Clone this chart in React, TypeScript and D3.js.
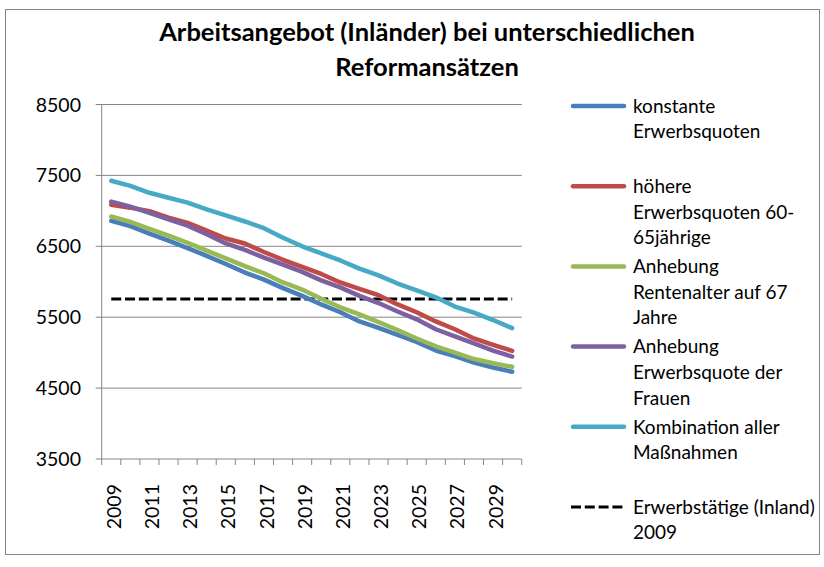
import React from "react";
import * as d3 from "d3";

// years on the category axis
const years = d3.range(2009, 2031).map(String);
const yTicks = [3500, 4500, 5500, 6500, 7500, 8500];

// series values (thousands)
const konstante = [6860, 6785, 6680, 6580, 6475, 6365, 6250, 6130, 6030, 5910, 5800, 5680, 5570, 5440, 5350, 5250, 5150, 5030, 4950, 4860, 4790, 4730];
const hoehere = [7085, 7045, 6995, 6905, 6830, 6720, 6610, 6540, 6420, 6310, 6210, 6110, 5990, 5900, 5810, 5680, 5570, 5440, 5330, 5200, 5110, 5025];
const rentenalter = [6920, 6845, 6745, 6650, 6550, 6440, 6330, 6220, 6120, 5990, 5890, 5760, 5640, 5540, 5430, 5320, 5200, 5090, 5000, 4910, 4850, 4800];
const frauen = [7130, 7060, 6970, 6880, 6790, 6670, 6540, 6450, 6340, 6240, 6140, 6020, 5920, 5800, 5700, 5580, 5470, 5330, 5230, 5130, 5030, 4945];
const kombination = [7425, 7353, 7255, 7185, 7115, 7020, 6935, 6850, 6755, 6620, 6500, 6400, 6300, 6185, 6090, 5975, 5880, 5780, 5650, 5565, 5460, 5345];
const erwerbstaetige2009 = 5757;

const series = [
  { name: ["konstante", "Erwerbsquoten"], values: konstante, color: "#4a7ebb" },
  { name: ["höhere", "Erwerbsquoten 60-", "65jährige"], values: hoehere, color: "#be4b48" },
  { name: ["Anhebung", "Rentenalter auf 67", "Jahre"], values: rentenalter, color: "#98b954" },
  { name: ["Anhebung", "Erwerbsquote der", "Frauen"], values: frauen, color: "#7d60a0" },
  { name: ["Kombination aller", "Maßnahmen"], values: kombination, color: "#46aac5" },
];
const refName = ["Erwerbstätige (Inland)", "2009"];

const W = 824;
const H = 567;
const plot = { left: 101.7, right: 521.7, top: 104.5, bottom: 459 };
const font = "Lato, 'Open Sans', sans-serif";
const axisColor = "#868686";

export default function App() {
  const x = d3.scaleBand().domain(years).range([plot.left, plot.right]).padding(0);
  const cx = (y: string) => (x(y) as number) + x.bandwidth() / 2;
  const y = d3.scaleLinear().domain([3500, 8500]).range([plot.bottom, plot.top]);

  const line = d3
    .line<number>()
    .x((_, i) => cx(years[i]))
    .y((d) => y(d));

  const boundaries = years.map((yr) => x(yr) as number).concat([plot.right]);

  const legendX1 = 573;
  const legendX2 = 624;
  const legendText = 633;
  const legendTop = 106;
  const legendStep = 80.2;
  const lineH = 25.6;

  return (
    <svg width={W} height={H} style={{ position: "absolute", left: 0, top: 0 }} fontFamily={font}>
      <rect x={0} y={0} width={W} height={H} fill="#fff" />
      <rect x={5.5} y={9.5} width={814} height={545} fill="none" stroke={axisColor} strokeWidth={1} />

      <text x={427} y={41} textAnchor="middle" fontSize={25.5} fontWeight="bold" fill="#000">
        Arbeitsangebot (Inländer) bei unterschiedlichen
      </text>
      <text x={427} y={76} textAnchor="middle" fontSize={25.5} fontWeight="bold" fill="#000">
        Reformansätzen
      </text>

      {/* gridlines */}
      {yTicks.map((t) => (
        <g key={t}>
          <line x1={plot.left - 6} x2={plot.right} y1={y(t)} y2={y(t)} stroke={axisColor} strokeWidth={1} />
          <text x={81} y={y(t)} dy="0.36em" textAnchor="end" fontSize={19.5} fill="#000">
            {t}
          </text>
        </g>
      ))}

      {/* axes */}
      <line x1={plot.left} x2={plot.left} y1={plot.top} y2={plot.bottom} stroke={axisColor} strokeWidth={1} />
      {boundaries.map((b, i) => (
        <line key={i} x1={b} x2={b} y1={plot.bottom} y2={plot.bottom + 6} stroke={axisColor} strokeWidth={1} />
      ))}
      {years.map((yr, i) =>
        i % 2 === 0 ? (
          <text
            key={yr}
            transform={`translate(${cx(yr) + 2.5},484) rotate(-90)`}
            dy="0.36em"
            textAnchor="end"
            fontSize={19.5}
            fill="#000"
          >
            {yr}
          </text>
        ) : null
      )}

      {/* reference line */}
      <line
        x1={cx(years[0])}
        x2={cx(years[years.length - 1])}
        y1={y(erwerbstaetige2009)}
        y2={y(erwerbstaetige2009)}
        stroke="#000"
        strokeWidth={3.2}
        strokeDasharray="10 3.8"
      />

      {/* series */}
      {series.map((s) => (
        <path
          key={s.color}
          d={line(s.values) as string}
          fill="none"
          stroke={s.color}
          strokeWidth={4.5}
          strokeLinejoin="round"
          strokeLinecap="round"
        />
      ))}

      {/* legend */}
      {series.map((s, i) => {
        const ly = legendTop + i * legendStep;
        return (
          <g key={i}>
            <line x1={legendX1} x2={legendX2} y1={ly} y2={ly} stroke={s.color} strokeWidth={4.5} strokeLinecap="round" />
            {s.name.map((n, j) => (
              <text key={j} x={legendText} y={ly + j * lineH} dy="0.36em" fontSize={19} fill="#000">
                {n}
              </text>
            ))}
          </g>
        );
      })}
      <g>
        <line
          x1={legendX1 - 2}
          x2={legendX2 + 1}
          y1={legendTop + 5 * legendStep}
          y2={legendTop + 5 * legendStep}
          stroke="#000"
          strokeWidth={3.2}
          strokeDasharray="10 3.8"
        />
        {refName.map((n, j) => (
          <text key={j} x={legendText} y={legendTop + 5 * legendStep + j * lineH} dy="0.36em" fontSize={19} fill="#000">
            {n}
          </text>
        ))}
      </g>
    </svg>
  );
}
